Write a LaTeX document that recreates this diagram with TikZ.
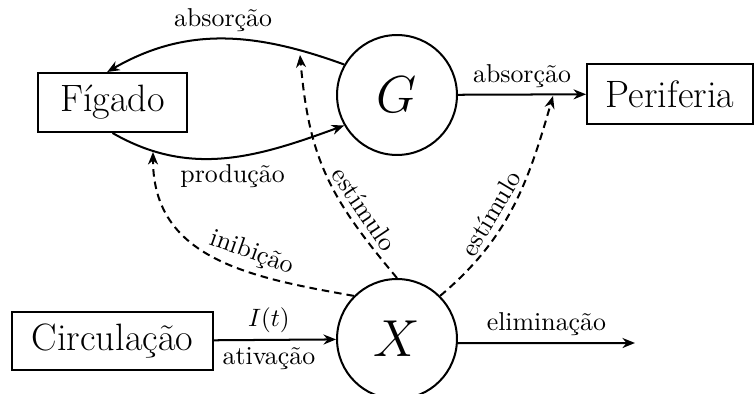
\documentclass[tikz,border=0pt]{standalone}
\usetikzlibrary{arrows.meta}
\begin{document}
\begin{tikzpicture}[x=0.3985pt,y=-0.3985pt,
  box/.style={draw,line width=0.8pt,inner sep=0pt,font=\fontsize{15.2}{18}\selectfont},
  var/.style={draw,circle,line width=0.8pt,minimum size=47.8pt,inner sep=0pt,font=\huge},
  arr/.style={line width=0.8pt,-{Stealth[length=5pt,width=4pt]}},
  darr/.style={arr,dash pattern=on 3pt off 2pt},
  lbl/.style={font=\fontsize{10.3}{12}\selectfont,inner sep=2.5pt}]
\useasboundingbox (0,0) rectangle (754,394);
\node[box,minimum width=59.4pt,minimum height=23.5pt] (Fig) at (112.5,102.5) {Fígado};
\node[box,minimum width=66.1pt,minimum height=23.9pt] (Per) at (670,94) {Periferia};
\node[box,minimum width=80.1pt,minimum height=23.1pt] (Circ) at (112.5,341) {Circulação};
\node[var] (G) at (397,95) {$G$};
\node[var] (X) at (397,339) {$X$};
\coordinate (elim) at (635,343);
\coordinate (e1) at (300,55);
\coordinate (e2) at (553,96);
\coordinate (e3) at (153,152);
% solid connectors
\draw[arr] (G.150) to[out=160,in=30] node[lbl,above]{absorção} (Fig.100);
\draw[arr] (Fig.south) to[out=-30,in=200] node[lbl,below,pos=0.53]{produção} (G.210);
\draw[arr] (G) -- node[lbl,above]{absorção} (Per);
\draw[arr] (Circ) -- node[lbl,above,pos=0.45]{$I(t)$} node[lbl,below,pos=0.45]{ativação} (X);
\draw[arr] (X.-4) -- node[lbl,above]{eliminação} (elim);
% dashed connectors
\draw[darr] (X.north) to[out=130,in=-85,looseness=1.1] node[lbl,pos=0.28,sloped,above]{estímulo} (e1);
\draw[darr] (X.45) to[out=40,in=-106] node[lbl,pos=0.42,sloped,above]{estímulo} (e2);
\draw[darr] (X.135) to[out=170,in=-90,looseness=1.1] node[lbl,pos=0.37,sloped,above]{inibição} (e3);
\end{tikzpicture}
\end{document}
